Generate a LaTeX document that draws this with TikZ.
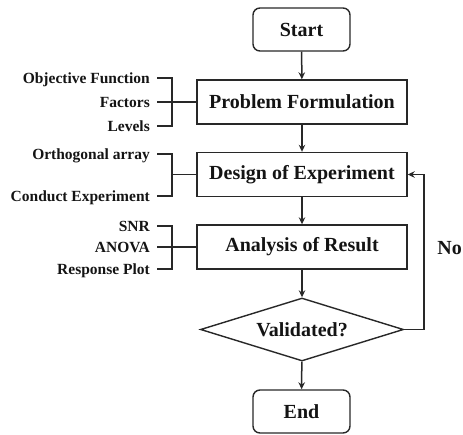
\documentclass[tikz,border=0pt]{standalone}
\usepackage{fontspec}
\setmainfont{Liberation Serif}
\usetikzlibrary{shapes.geometric,arrows.meta}
\definecolor{ln}{RGB}{40,40,40}
\definecolor{tx}{RGB}{20,20,20}
\begin{document}
\begin{tikzpicture}[x=1pt,y=-1pt,
  box/.style={draw=ln,line width=1.4pt,fill=white,minimum width=210pt,minimum height=44pt,inner sep=0pt,font=\fontsize{20}{22}\selectfont\bfseries,text=tx},
  term/.style={box,rounded corners=7pt,minimum width=97pt,minimum height=43pt},
  dec/.style={draw=ln,line width=1.4pt,fill=white,diamond,aspect=3.2,minimum width=203pt,minimum height=63pt,inner sep=0pt,font=\fontsize{20}{22}\selectfont\bfseries,text=tx},
  lab/.style={anchor=east,inner sep=0pt,text height=10.3pt,text depth=0pt,font=\fontsize{15.5}{17}\selectfont\bfseries,text=tx},
  arr/.style={draw=ln,line width=1.5pt,-{Stealth[length=7pt,width=6.5pt]}},
  brk/.style={draw=ln,line width=1.3pt}]
\useasboundingbox (0,0) rectangle (463,434);
\node[term] (start) at (301.5,29.5) {Start};
\node[box] (pf) at (302,102) {Problem Formulation};
\node[box] (doe) at (302,174.5) {Design of Experiment};
\node[box] (aor) at (302,247) {Analysis of Result};
\node[dec] (val) at (302,329.5) {Validated?};
\node[term] (end) at (301.5,411.5) {End};
\node[anchor=east,inner sep=0pt,font=\fontsize{20}{22}\selectfont\bfseries,text=tx] (no) at (462,248) {No};

\draw[arr] (start) -- (pf);
\draw[arr] (pf) -- (doe);
\draw[arr] (doe) -- (aor);
\draw[arr] (aor) -- (val);
\draw[arr] (val) -- (end);
\draw[arr] (val.east) -- ++(20,0) |- (doe.east);

% Problem formulation inputs
\node[lab] (obj) at (150,78) {Objective Function};
\node[lab] (fac) at (150,102) {Factors};
\node[lab] (lev) at (150,126) {Levels};
\draw[brk] ([xshift=7pt]obj.east) -- ++(15,0) |- ([xshift=7pt]lev.east);
\draw[brk] ([xshift=7pt]fac.east) -- (pf.west);

% Design of experiment inputs
\node[lab] (orth) at (150,154) {Orthogonal array};
\node[lab] (cond) at (150,196) {Conduct Experiment};
\draw[brk] ([xshift=7pt]orth.east) -- ++(15,0) |- ([xshift=7pt]cond.east);
\draw[brk] (doe.west) -- ++(-25,0);

% Analysis inputs
\node[lab] (snr) at (150,226) {SNR};
\node[lab] (anova) at (150,247) {ANOVA};
\node[lab] (resp) at (150,269) {Response Plot};
\draw[brk] ([xshift=7pt]snr.east) -- ++(15,0) |- ([xshift=7pt]resp.east);
\draw[brk] ([xshift=7pt]anova.east) -- (aor.west);
\end{tikzpicture}
\end{document}
